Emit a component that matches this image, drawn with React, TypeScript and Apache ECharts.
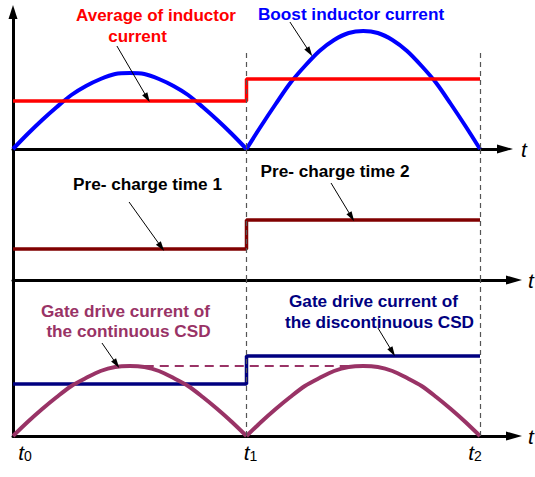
import React, { useEffect, useRef } from "react";
import * as echarts from "echarts";

// Time axis: t0 = 0, t1 = 1, t2 = 2 (each interval is one arch)
const ARCH_PHASE = [
  0, 0.0625, 0.125, 0.1875, 0.25, 0.3125, 0.375, 0.4375, 0.5, 0.5625, 0.625, 0.6875, 0.75, 0.8125, 0.875, 0.9375, 1,
];
const BOOST_CURRENT_1 = [0, 15, 29, 42, 54, 63, 70, 75, 76, 75, 70, 63, 54, 42, 29, 15, 0];
const BOOST_CURRENT_2 = [0, 23, 45, 66, 83, 98, 109, 116, 118, 116, 109, 98, 83, 66, 45, 23, 0];
const AVERAGE_CURRENT = [48, 70];
const PRECHARGE_TIME = [31, 60];
const GATE_CONTINUOUS = [0, 14, 27, 39, 50, 58, 65, 69, 70, 69, 65, 58, 50, 39, 27, 14, 0];
const GATE_CONTINUOUS_PEAK = 70;
const GATE_PEAK_HOLD = [0.5, 1.45];
const GATE_DISCONTINUOUS = [52, 80];
const TIME_TICKS = [0, 1, 2];
const TIME_LABELS = ["0", "1", "2"];
const GUIDE_TOP_PANEL1 = 96;

// annotation pointers [x0, y0, x1, y1] in data units
const POINTERS_P1 = [
  [0.445, 103, 0.575, 51],
  [1.186, 127, 1.27, 97],
];
const POINTERS_P2 = [
  [0.497, 78, 0.635, 33],
  [1.362, 97, 1.45, 63],
];
const POINTERS_P3 = [
  [0.381, 93, 0.443, 72],
  [1.563, 108, 1.625, 84],
];

const FONT = '"Liberation Sans", Arial, sans-serif';

function arch(start: number, values: number[]) {
  return ARCH_PHASE.map((p, i) => [start + p, values[i]]);
}
function step(values: number[]) {
  return [
    [0, values[0]],
    [1, values[0]],
    [1, values[1]],
    [2, values[1]],
  ];
}
function guide(x: number, y0: number, y1: number) {
  return [
    { coord: [x, y0], symbol: "none", lineStyle: { color: "#555", type: [5, 4], width: 1.2 } },
    { coord: [x, y1], symbol: "none" },
  ];
}
function pointer(p: number[]) {
  return [
    { coord: [p[0], p[1]], symbol: "none", lineStyle: { color: "#000", type: "solid", width: 1 } },
    { coord: [p[2], p[3]], symbol: "triangle", symbolSize: [6, 10] },
  ];
}

const markBase = {
  silent: true,
  symbol: ["none", "none"],
  label: { show: false },
  emphasis: { disabled: true },
  animation: false,
};

function xAxis(idx: number, max: number, nameGap: number, labels: boolean) {
  return {
    type: "value",
    gridIndex: idx,
    min: 0,
    max,
    interval: 1,
    splitLine: { show: false },
    axisTick: { show: false },
    axisLine: {
      show: true,
      onZero: false,
      lineStyle: { color: "#000", width: 3 },
      symbol: ["none", "triangle"],
      symbolSize: [9, 16],
    },
    name: "t",
    nameLocation: "end",
    nameGap,
    nameTextStyle: {
      fontFamily: FONT,
      fontStyle: "italic",
      fontSize: 21,
      color: "#000",
      padding: [0, 0, 4, 0],
    },
    axisLabel: labels
      ? {
          show: true,
          margin: 5,
          showMinLabel: true,
          formatter: (v: number) => {
            const i = TIME_TICKS.indexOf(Math.round(v * 1000) / 1000);
            if (i < 0) return "";
            return `{t${i}|t}{s${i}|${TIME_LABELS[i]}}`;
          },
          rich: {
            t0: { fontFamily: FONT, fontStyle: "italic", fontSize: 21, lineHeight: 22, color: "#000", padding: [0, 0, 0, 24] },
            t1: { fontFamily: FONT, fontStyle: "italic", fontSize: 21, lineHeight: 22, color: "#000", padding: [0, 0, 0, 8] },
            t2: { fontFamily: FONT, fontStyle: "italic", fontSize: 21, lineHeight: 22, color: "#000" },
            s0: { fontFamily: FONT, fontSize: 14, lineHeight: 14, verticalAlign: "bottom", color: "#000" },
            s1: { fontFamily: FONT, fontSize: 14, lineHeight: 14, verticalAlign: "bottom", color: "#000" },
            s2: { fontFamily: FONT, fontSize: 14, lineHeight: 14, verticalAlign: "bottom", color: "#000", padding: [0, 10, 0, 0] },
          },
        }
      : { show: false },
  };
}

function yAxis(idx: number, max: number, arrow: boolean) {
  return {
    type: "value",
    gridIndex: idx,
    min: 0,
    max,
    splitLine: { show: false },
    axisTick: { show: false },
    axisLabel: { show: false },
    axisLine: {
      show: true,
      onZero: false,
      lineStyle: { color: "#000", width: 3 },
      symbol: arrow ? ["none", "triangle"] : ["none", "none"],
      symbolSize: [9, 14],
    },
  };
}

function label(text: string, x: number, y: number, color: string, size = 17.2) {
  return {
    type: "text",
    x,
    y,
    silent: true,
    z: 100,
    style: {
      text,
      fill: color,
      fontFamily: FONT,
      fontWeight: "bold",
      fontSize: size,
      lineHeight: 17,
      textAlign: "center",
      textVerticalAlign: "middle",
      align: "center",
      verticalAlign: "middle",
    },
  };
}

const RED = "#ff0000";
const BLUE = "#0000ff";
const DARKRED = "#800000";
const NAVY = "#000080";
const PURPLE = "#993366";

const option = {
  animation: false,
  backgroundColor: "#fff",
  grid: [
    { left: 13, top: 12, width: 492, height: 137, outerBoundsMode: "none" },
    { left: 13, top: 149, width: 501, height: 131, outerBoundsMode: "none" },
    { left: 13, top: 280, width: 501, height: 156, outerBoundsMode: "none" },
  ],
  xAxis: [xAxis(0, 492 / 233.5, 16, false), xAxis(1, 501 / 233.5, 14, false), xAxis(2, 501 / 233.5, 14, true)],
  yAxis: [yAxis(0, 137, true), yAxis(1, 131, false), yAxis(2, 156, false)],
  series: [
    // panel 1
    {
      type: "line",
      xAxisIndex: 0,
      yAxisIndex: 0,
      data: arch(0, BOOST_CURRENT_1),
      smooth: 0.3,
      showSymbol: false,
      lineStyle: { color: BLUE, width: 4 },
      z: 2,
      markLine: {
        ...markBase,
        data: [guide(1, GUIDE_TOP_PANEL1, 0), guide(2, GUIDE_TOP_PANEL1, 0)],
      },
    },
    {
      type: "line",
      xAxisIndex: 0,
      yAxisIndex: 0,
      data: arch(1, BOOST_CURRENT_2),
      smooth: 0.3,
      showSymbol: false,
      lineStyle: { color: BLUE, width: 4 },
      z: 2,
    },
    {
      type: "line",
      xAxisIndex: 0,
      yAxisIndex: 0,
      data: step(AVERAGE_CURRENT),
      showSymbol: false,
      lineStyle: { color: RED, width: 3.5 },
      z: 3,
      markLine: { ...markBase, data: POINTERS_P1.map(pointer) },
    },
    // panel 2
    {
      type: "line",
      xAxisIndex: 1,
      yAxisIndex: 1,
      data: step(PRECHARGE_TIME),
      showSymbol: false,
      lineStyle: { color: DARKRED, width: 3.5 },
      z: 3,
      markLine: {
        ...markBase,
        data: [guide(1, 0, 131), guide(2, 0, 131), ...POINTERS_P2.map(pointer)],
      },
    },
    // panel 3
    {
      type: "line",
      xAxisIndex: 2,
      yAxisIndex: 2,
      data: step(GATE_DISCONTINUOUS),
      showSymbol: false,
      lineStyle: { color: NAVY, width: 3.5 },
      z: 2,
      markLine: {
        ...markBase,
        data: [guide(1, 0, 156), guide(2, 0, 156), ...POINTERS_P3.map(pointer)],
      },
    },
    {
      type: "line",
      xAxisIndex: 2,
      yAxisIndex: 2,
      data: GATE_PEAK_HOLD.map((x) => [x, GATE_CONTINUOUS_PEAK]),
      showSymbol: false,
      lineStyle: { color: PURPLE, width: 2, type: [9, 6] },
      z: 3,
    },
    {
      type: "line",
      xAxisIndex: 2,
      yAxisIndex: 2,
      data: arch(0, GATE_CONTINUOUS),
      smooth: 0.3,
      showSymbol: false,
      lineStyle: { color: PURPLE, width: 4 },
      z: 4,
    },
    {
      type: "line",
      xAxisIndex: 2,
      yAxisIndex: 2,
      data: arch(1, GATE_CONTINUOUS),
      smooth: 0.3,
      showSymbol: false,
      lineStyle: { color: PURPLE, width: 4 },
      z: 4,
    },
  ],
  graphic: [
    label("Average of inductor", 156, 15.5, RED, 17),
    label("current", 137.5, 36.5, RED, 17),
    label("Boost inductor current", 351, 13.5, BLUE),
    label("Pre- charge time 1", 147.5, 184, "#000"),
    label("Pre- charge time 2", 335, 171, "#000"),
    label("Gate drive current of", 125.5, 311, PURPLE),
    label("the continuous CSD", 128.5, 331, PURPLE),
    label("Gate drive current of", 373.5, 301, NAVY),
    label("the discontinuous CSD", 379.5, 322, NAVY),
  ],
};

export default function App() {
  const ref = useRef<HTMLDivElement>(null);
  useEffect(() => {
    const chart = echarts.init(ref.current as HTMLDivElement, null, { renderer: "svg" });
    chart.setOption(option as any);
    return () => chart.dispose();
  }, []);
  return (
    <div
      ref={ref}
      style={{ position: "absolute", left: 0, top: 0, width: 535, height: 477, background: "#fff" }}
    />
  );
}
